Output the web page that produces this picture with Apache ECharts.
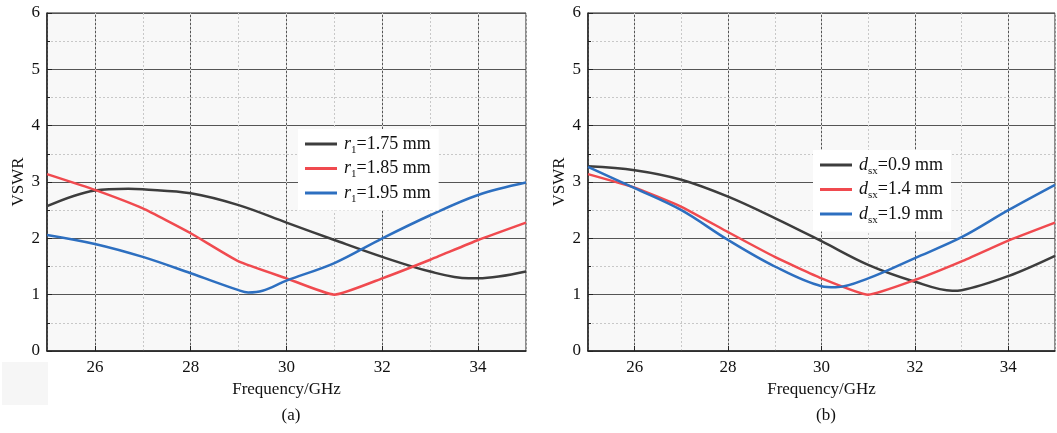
<!DOCTYPE html>
<html>
<head>
<meta charset="utf-8">
<script src="https://cdn.jsdelivr.net/npm/echarts@6/dist/echarts.min.js"></script>
<style>
  html, body { margin: 0; padding: 0; background: #fff; }
  #chart { width: 1057px; height: 433px; }
</style>
</head>
<body>
<div id="chart"></div>
<script>
// tick labels
var xTicks = [26, 28, 30, 32, 34];

// (a) r1 sweep
var namesA = ['r1=1.75 mm', 'r1=1.85 mm', 'r1=1.95 mm'];
var r175 = [[25,2.57],[26,2.85],[26.7,2.88],[27,2.87],[28,2.80],[29,2.59],[30,2.28],[31,1.97],[32,1.67],[33,1.41],[33.8,1.29],[34,1.29],[35,1.41]];
var r185 = [[25,3.14],[26,2.86],[27,2.53],[28,2.09],[29,1.59],[30,1.29],[31,1.0],[32,1.29],[33,1.62],[34,1.97],[35,2.28]];
var r195 = [[25,2.06],[26,1.90],[27,1.67],[28,1.38],[29,1.08],[29.2,1.04],[29.5,1.07],[30,1.25],[31,1.56],[32,2.0],[33,2.41],[34,2.77],[35,2.99]];

// (b) dsx sweep
var namesB = ['dsx=0.9 mm', 'dsx=1.4 mm', 'dsx=1.9 mm'];
var d09 = [[25,3.28],[26,3.21],[27,3.04],[28,2.74],[29,2.36],[30,1.95],[31,1.53],[32,1.23],[32.8,1.07],[33,1.08],[34,1.33],[35,1.69]];
var d14 = [[25,3.14],[26,2.90],[27,2.56],[28,2.11],[29,1.67],[30,1.29],[31,1.0],[32,1.26],[33,1.59],[34,1.96],[35,2.28]];
var d19 = [[25,3.27],[26,2.89],[27,2.50],[28,1.97],[29,1.50],[30,1.15],[30.3,1.13],[31,1.29],[32,1.65],[33,2.02],[34,2.5],[35,2.95]];

var colors = ['#3d3d3d', '#f04a4f', '#2d6fc0'];
var serif = '"Liberation Serif", "Times New Roman", serif';

function mainX(gi) {
  return {
    type: 'value', gridIndex: gi, min: 25, max: 35, position: 'bottom',
    name: 'Frequency/GHz', nameLocation: 'middle', nameGap: 29,
    nameTextStyle: { fontFamily: serif, fontSize: 17, color: '#111' },
    axisLine: { onZero: false, lineStyle: { color: '#222', width: 1.5 } },
    axisTick: { inside: true, length: 5, customValues: xTicks, lineStyle: { color: '#222' } },
    axisLabel: { customValues: xTicks, fontFamily: serif, fontSize: 17, color: '#111', margin: 8 },
    splitLine: { show: true, lineStyle: { color: '#555', width: 1 } }
  };
}
function minorX(gi) {
  return {
    type: 'value', gridIndex: gi, min: 25, max: 35, interval: 1, position: 'top',
    axisLine: { show: false },
    axisTick: { show: false },
    axisLabel: { show: false },
    splitLine: { show: true, lineStyle: { color: '#c8c8c8', type: [2, 2], width: 1 } }
  };
}
function yAx(gi) {
  return {
    type: 'value', gridIndex: gi, min: 0, max: 6, interval: 1,
    name: 'VSWR', nameLocation: 'middle', nameGap: 20,
    nameTextStyle: { fontFamily: serif, fontSize: 17, color: '#111' },
    axisLine: { show: true, lineStyle: { color: '#222', width: 1.5 } },
    axisTick: { show: true, inside: true, length: 5, lineStyle: { color: '#222' } },
    minorTick: { show: true, splitNumber: 2, length: 3, lineStyle: { color: '#222' } },
    axisLabel: { fontFamily: serif, fontSize: 17, color: '#111', margin: 7 },
    splitLine: { show: true, lineStyle: { color: '#555', width: 1 } },
    minorSplitLine: { show: true, lineStyle: { color: '#c8c8c8', type: [2, 2], width: 1 } }
  };
}
function line(name, data, ci, gi) {
  return {
    type: 'line', name: name, data: data, xAxisIndex: gi * 2, yAxisIndex: gi,
    smooth: ci === 1 ? 0.15 : 0.35, showSymbol: false, symbol: 'none',
    lineStyle: { color: colors[ci], width: 2.5 }, itemStyle: { color: colors[ci] }
  };
}
function legendFmt(name) {
  var m = name.match(/^(r)(1)(=.*)$/) || name.match(/^(d)(sx)(=.*)$/);
  return '{i|' + m[1] + '}{s|' + m[2] + '}{n|' + m[3] + '}';
}
var legendRich = {
  i: { fontFamily: serif, fontSize: 18, fontStyle: 'italic', color: '#111' },
  s: { fontFamily: serif, fontSize: 11, color: '#111', padding: [12, 0, 0, 0] },
  n: { fontFamily: serif, fontSize: 18, color: '#111' }
};
function legend(names, left, top) {
  return {
    data: names, orient: 'vertical', left: left, top: top,
    backgroundColor: '#fff', padding: [6, 8, 6, 7], itemGap: 4,
    icon: 'rect', itemWidth: 32, itemHeight: 3,
    formatter: legendFmt,
    textStyle: { rich: legendRich, padding: [0, 0, 0, 2] }
  };
}

var chart = echarts.init(document.getElementById('chart'));
chart.setOption({
  animation: false,
  backgroundColor: '#fff',
  title: [
    { text: '(a)', left: 286, top: 402, textAlign: 'center', textStyle: { fontFamily: serif, fontSize: 17, fontWeight: 'normal', color: '#111' } },
    { text: '(b)', left: 821, top: 402, textAlign: 'center', textStyle: { fontFamily: serif, fontSize: 17, fontWeight: 'normal', color: '#111' } }
  ],
  graphic: [
    { type: 'rect', left: 2, top: 362, shape: { width: 46, height: 43 }, style: { fill: '#f6f6f6' }, silent: true }
  ],
  grid: [
    { left: 47, top: 13, width: 479, height: 338, show: true, backgroundColor: '#f8f8f8', borderColor: '#222', borderWidth: 1 },
    { left: 588, top: 13, width: 467, height: 338, show: true, backgroundColor: '#f8f8f8', borderColor: '#222', borderWidth: 1 }
  ],
  legend: [legend(namesA, 298, 129), legend(namesB, 813, 150)],
  xAxis: [mainX(0), minorX(0), mainX(1), minorX(1)],
  yAxis: [yAx(0), yAx(1)],
  series: [
    line(namesA[0], r175, 0, 0), line(namesA[1], r185, 1, 0), line(namesA[2], r195, 2, 0),
    line(namesB[0], d09, 0, 1), line(namesB[1], d14, 1, 1), line(namesB[2], d19, 2, 1)
  ]
});
</script>
</body>
</html>
